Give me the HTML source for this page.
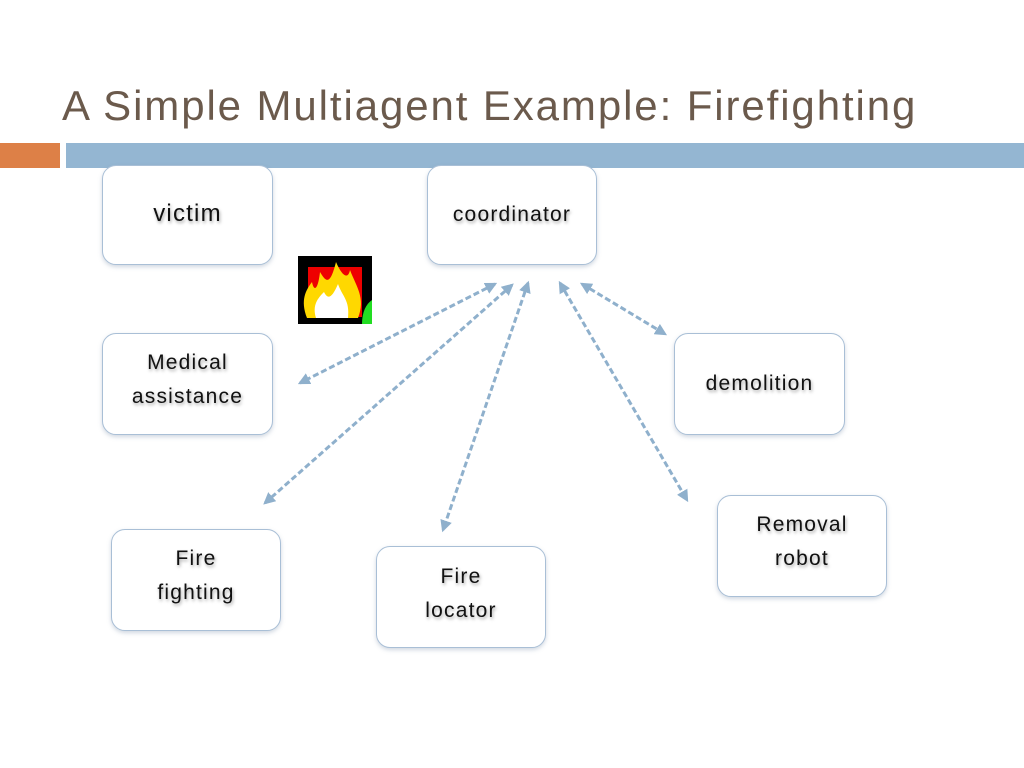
<!DOCTYPE html>
<html><head><style>
body{margin:0;width:1024px;height:768px;background:#fff;position:relative;overflow:hidden;font-family:"Liberation Sans",sans-serif}
.t{position:absolute;left:62px;top:82px;font-size:42px;letter-spacing:1.9px;color:#6b5a4c;white-space:nowrap}
.bar{position:absolute;top:143px;height:25px}
.b{position:absolute;border:1.5px solid #a9bfd6;border-radius:14px;background:#fff;box-shadow:0 2px 4px rgba(120,140,170,.35);display:flex;align-items:center;justify-content:center;text-align:center;font-size:21px;letter-spacing:1.2px;color:#111;line-height:34px;text-shadow:1px 2px 3px rgba(0,0,0,.35);box-sizing:border-box}
</style></head><body>
<div class="t">A Simple Multiagent Example: Firefighting</div>
<div class="bar" style="left:0;width:60px;background:#dd8047"></div>
<div class="bar" style="left:66px;width:958px;background:#94b6d2"></div>
<div class="b" style="left:102px;top:165px;width:171px;height:100px;font-size:24px;padding-bottom:2px">victim</div>
<div class="b" style="left:427px;top:165px;width:170px;height:100px;align-items:flex-start;padding-top:32px">coordinator</div>
<div class="b" style="left:102px;top:333px;width:171px;height:102px;padding-bottom:8px">Medical<br>assistance</div>
<div class="b" style="left:674px;top:333px;width:171px;height:102px">demolition</div>
<div class="b" style="left:111px;top:529px;width:170px;height:102px;padding-bottom:8px">Fire<br>fighting</div>
<div class="b" style="left:376px;top:546px;width:170px;height:102px;padding-bottom:6px">Fire<br>locator</div>
<div class="b" style="left:717px;top:495px;width:170px;height:102px;padding-bottom:8px">Removal<br>robot</div>
<svg style="position:absolute;left:0;top:0" width="1024" height="768">
<defs><marker id="a" viewBox="0 0 10 10" refX="8" refY="5" markerWidth="4" markerHeight="4" orient="auto-start-reverse"><path d="M0,0L10,5L0,10z" fill="#8fb0cc"/></marker></defs>
<g stroke="#8fb0cc" stroke-width="3" stroke-dasharray="6,3" fill="none" marker-start="url(#a)" marker-end="url(#a)">
<line x1="495" y1="284" x2="300" y2="383"/>
<line x1="512" y1="285" x2="265" y2="503"/>
<line x1="528" y1="283" x2="443" y2="530"/>
<line x1="560" y1="283" x2="687" y2="500"/>
<line x1="582" y1="284" x2="665" y2="334"/>
</g>
<rect x="298" y="256" width="74" height="68" fill="#000"/>
<rect x="308" y="267" width="54" height="50" fill="#e00"/>
<path d="M307,318 C300,300 306,290 312,282 C314,292 318,290 320,272 C326,282 330,286 336,262 C342,276 348,280 350,270 C356,286 366,298 358,318z" fill="#ffd800"/>
<path d="M316,318 C312,305 318,298 324,292 C328,300 332,298 338,284 C342,296 350,300 348,318z" fill="#fff"/>
<path d="M362,324 L372,324 L372,300 C366,304 362,312 362,324z" fill="#2d2"/>
</svg>
</body></html>
